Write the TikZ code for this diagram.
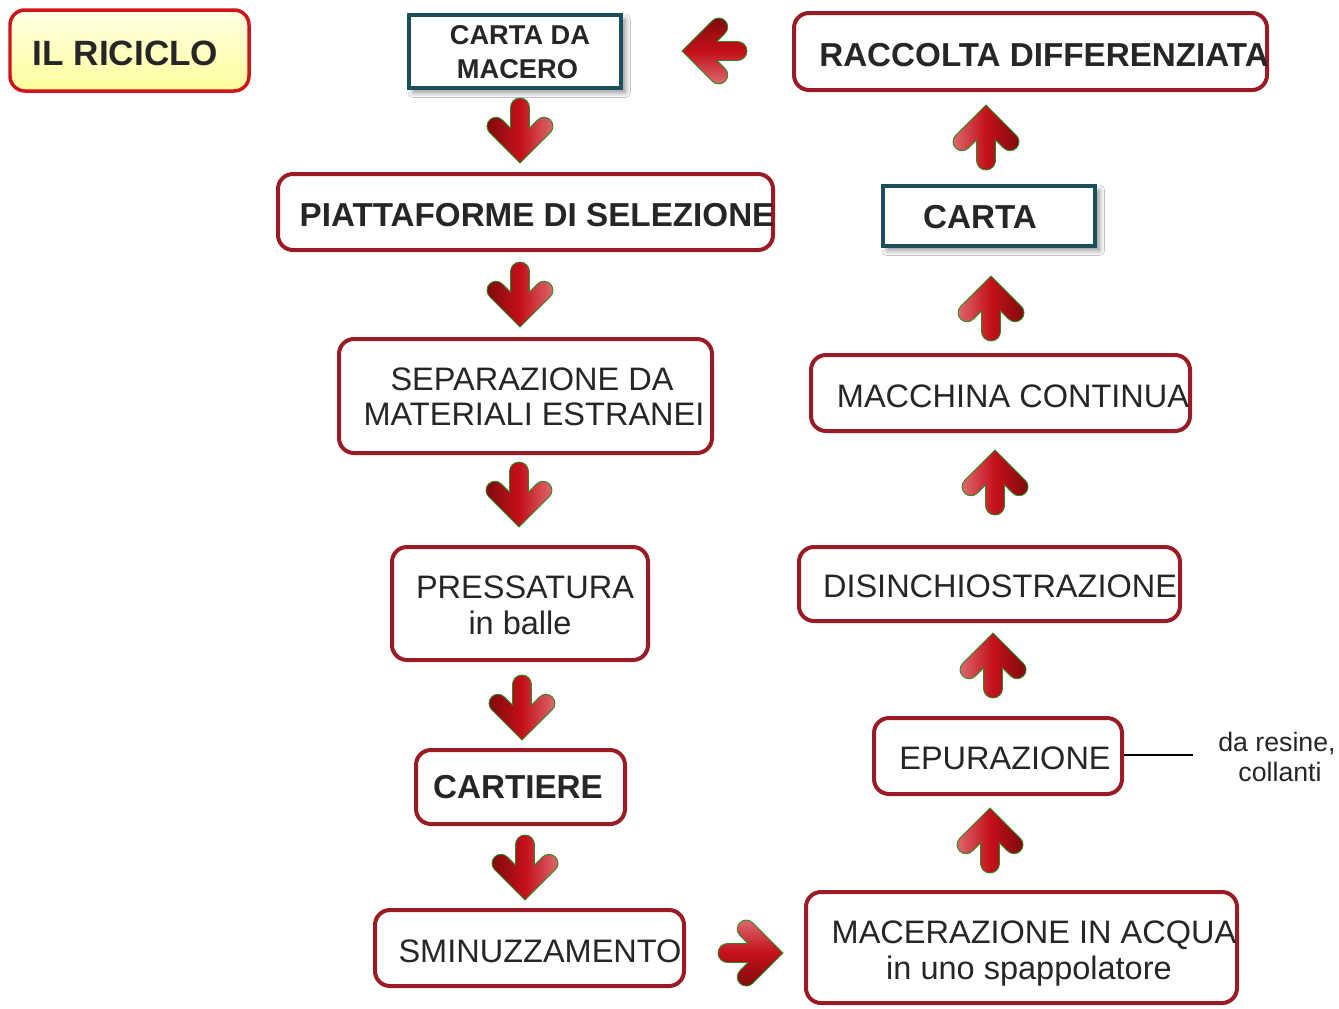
\documentclass[tikz,border=0pt]{standalone}
\usepackage{fontspec}
\setmainfont{Liberation Sans}
\usetikzlibrary{shadows.blur}
\definecolor{boxred}{HTML}{9B1B24}
\definecolor{tealbox}{HTML}{1B4F5C}
\definecolor{txtgray}{HTML}{262626}
\definecolor{titlered}{HTML}{D0141C}
\definecolor{ylight}{HTML}{FFFFE4}
\definecolor{ydark}{HTML}{FFFF9C}
\definecolor{adark}{HTML}{7E0A0C}
\definecolor{amid}{HTML}{C4101A}
\definecolor{alight}{HTML}{DC6A6E}
\definecolor{agreen}{HTML}{2E8B22}
\tikzset{
  sz/.style 2 args={minimum width=#1*0.02cm, minimum height=#2*0.02cm},
  rbox/.style={draw=boxred, line width=0.08cm, rounded corners=0.3cm, inner sep=0pt, fill=white},
  tbox/.style={draw=tealbox, line width=0.075cm, inner sep=0pt, fill=white,
    blur shadow={shadow blur steps=6, shadow xshift=2.5pt, shadow yshift=-2.5pt, shadow opacity=45, shadow blur radius=3pt}},
  titlebox/.style={draw=titlered, line width=0.07cm, rounded corners=0.3cm, inner sep=0pt,
    top color=ylight, bottom color=ydark},
  lbl/.style={anchor=base, text=txtgray, inner sep=0pt, font=\fontsize{18.5}{20}\selectfont},
  blbl/.style={lbl, font=\bfseries\fontsize{18.9}{20}\selectfont},
  slbl/.style={lbl, font=\fontsize{15.2}{18}\selectfont},
  down/.style={left color=adark, right color=alight, middle color=amid},
  up/.style={left color=alight, right color=adark, middle color=amid},
  leftw/.style={top color=adark, bottom color=alight, middle color=amid},
  rightw/.style={top color=alight, bottom color=adark, middle color=amid},
  arr/.pic={
    \path[x=0.02cm, y=0.02cm, draw=agreen, line width=0.5pt, #1]
      (0,0) -- (-30.4,30.35) arc[start angle=225, end angle=45, radius=0.18cm]
      -- (-9.5,35) -- (-9.5,55.5) arc[start angle=180, end angle=0, radius=0.19cm]
      -- (9.5,35) -- (17.6,43.1) arc[start angle=135, end angle=-45, radius=0.18cm]
      -- cycle;
  }
}
\begin{document}
\begin{tikzpicture}[x=0.02cm, y=-0.02cm]
\useasboundingbox[fill=white] (0,0) rectangle (1339,1008);

% boxes
\node[titlebox, sz={239}{81}] (ric) at (129.5,50.5) {};
\node[tbox, sz={212}{73}] (mac) at (515,51.5) {};
\node[rbox, sz={473}{77}] (rac) at (1030.5,51.5) {};
\node[rbox, sz={495}{76}] (pia) at (525.5,212) {};
\node[tbox, sz={212}{60}] (car) at (989,216) {};
\node[rbox, sz={373}{114}] (sep) at (525.5,396) {};
\node[rbox, sz={379}{76}] (mcc) at (1000.5,393) {};
\node[rbox, sz={256}{113}] (pre) at (520,603.5) {};
\node[rbox, sz={381}{74}] (dis) at (989.5,584) {};
\node[rbox, sz={209}{74}] (crt) at (520.5,787) {};
\node[rbox, sz={248}{76}] (epu) at (998,756) {};
\node[rbox, sz={309}{76}] (smi) at (529.5,948) {};
\node[rbox, sz={431}{111}] (mce) at (1021.5,947.5) {};

% texts
\node[lbl, font=\bfseries\fontsize{20}{22}\selectfont] (tric) at (125.5,65) {IL RICICLO};
\node[lbl, font=\bfseries\fontsize{15.5}{18}\selectfont] (tmac1) at (520,44) {CARTA DA};
\node[lbl, font=\bfseries\fontsize{15.5}{18}\selectfont] (tmac2) at (517.5,78) {MACERO};
\node[blbl] (trac) at (1044,66) {RACCOLTA DIFFERENZIATA};
\node[blbl] (tpia) at (537,226) {PIATTAFORME DI SELEZIONE};
\node[blbl] (tcar) at (980,228) {CARTA};
\node[lbl] (tsep1) at (532,390) {SEPARAZIONE DA};
\node[lbl] (tsep2) at (534,425) {MATERIALI ESTRANEI};
\node[lbl] (tmcc) at (1013,407) {MACCHINA CONTINUA};
\node[lbl] (tpre1) at (525,598) {PRESSATURA};
\node[lbl] (tpre2) at (520,634) {in balle};
\node[lbl] (tdis) at (1000,597) {DISINCHIOSTRAZIONE};
\node[blbl] (tcrt) at (518,798) {CARTIERE};
\node[lbl] (tepu) at (1005,769) {EPURAZIONE};
\node[lbl] (tsmi) at (540,962) {SMINUZZAMENTO};
\node[lbl] (tmce1) at (1034,943) {MACERAZIONE IN ACQUA};
\node[lbl] (tmce2) at (1029,979) {in uno spappolatore};
\node[slbl] (tres1) at (1277,751) {da resine,};
\node[slbl] (tres2) at (1280,781) {collanti};

% side connector
\coordinate (resend) at (1193,755);
\draw[line width=0.03cm, black] (epu.east |- resend) -- (resend);

% arrows
\pic at (520,163) {arr=down};
\pic at (520,327) {arr=down};
\pic at (519,527) {arr=down};
\pic at (522,740) {arr=down};
\pic at (525,900) {arr=down};
\pic[rotate=90] at (783,953) {arr=rightw};
\pic[rotate=180] at (990,808) {arr=up};
\pic[rotate=180] at (993,633) {arr=up};
\pic[rotate=180] at (995,450) {arr=up};
\pic[rotate=180] at (991,276) {arr=up};
\pic[rotate=180] at (986,105) {arr=up};
\pic[rotate=-90] at (682,51) {arr=leftw};
\end{tikzpicture}
\end{document}
